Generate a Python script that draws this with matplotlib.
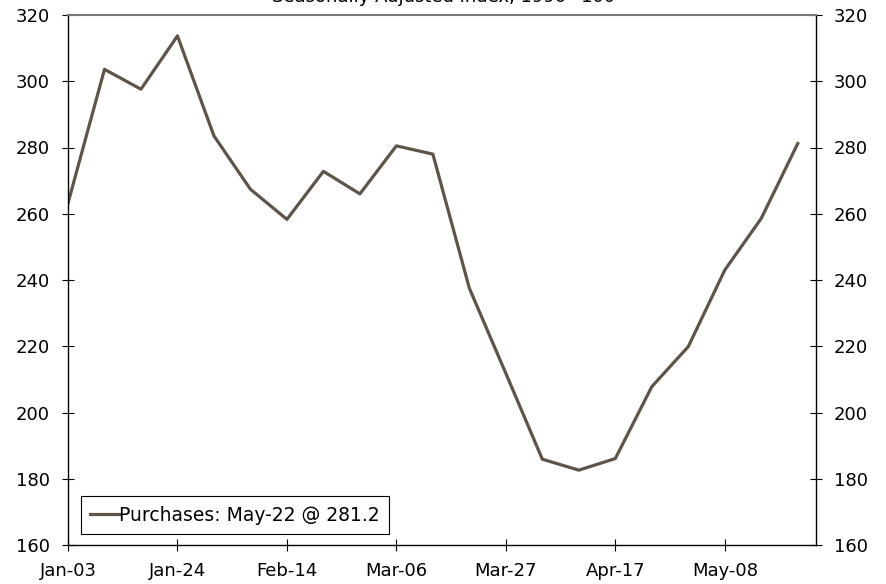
import matplotlib
matplotlib.use("Agg")
import matplotlib.pyplot as plt

# weekly purchase index, Jan-03 .. May-22
weeks = ["Jan-03", "Jan-10", "Jan-17", "Jan-24", "Jan-31", "Feb-07", "Feb-14",
         "Feb-21", "Feb-28", "Mar-06", "Mar-13", "Mar-20", "Mar-27", "Apr-03",
         "Apr-10", "Apr-17", "Apr-24", "May-01", "May-08", "May-15", "May-22"]
purchases = [263.2, 303.6, 297.6, 313.7, 283.5, 267.4, 258.3, 272.8, 266.0,
             280.5, 278.0, 237.5, 211.8, 185.9, 182.6, 186.1, 207.8, 219.9,
             243.0, 258.6, 281.2]
yticks = [160, 180, 200, 220, 240, 260, 280, 300, 320]

fig = plt.figure(figsize=(8.86, 5.84), dpi=100)
ax = fig.add_axes([68/886, 1-545/584, 748/886, 530/584])

x = list(range(len(weeks)))
ax.plot(x, purchases, color="#5E5448", lw=2.3,
        label="Purchases: {} @ {:.1f}".format(weeks[-1], purchases[-1]))

ax.set_xlim(0, 20.5)
ax.set_ylim(160, 320)
ax.set_xticks(x[::3])
ax.set_xticklabels(weeks[::3])
ax.set_yticks(yticks)
ax.tick_params(axis="both", direction="inout", length=8, width=0.8,
               labelsize=13, colors="black")
ax.tick_params(axis="y", right=True, labelright=True, pad=9)
ax.tick_params(axis="x", pad=8)

for s in ["left", "right", "bottom"]:
    ax.spines[s].set_color("black")
    ax.spines[s].set_linewidth(1.0)
ax.spines["top"].set_color("#777777")
ax.spines["top"].set_linewidth(1.5)

leg = ax.legend(loc="lower left", bbox_to_anchor=(13/748, 11/530),
                borderaxespad=0, fontsize=13.5, handlelength=1.5,
                handletextpad=0.05, fancybox=False, framealpha=1,
                borderpad=0.5)
leg.get_frame().set_edgecolor("black")
leg.get_frame().set_linewidth(0.8)

fig.text(0.5, 1 - 2/584, "Seasonally Adjusted Index, 1990=100",
         ha="center", va="baseline", fontsize=13)

fig.savefig("out.png", dpi=100)
